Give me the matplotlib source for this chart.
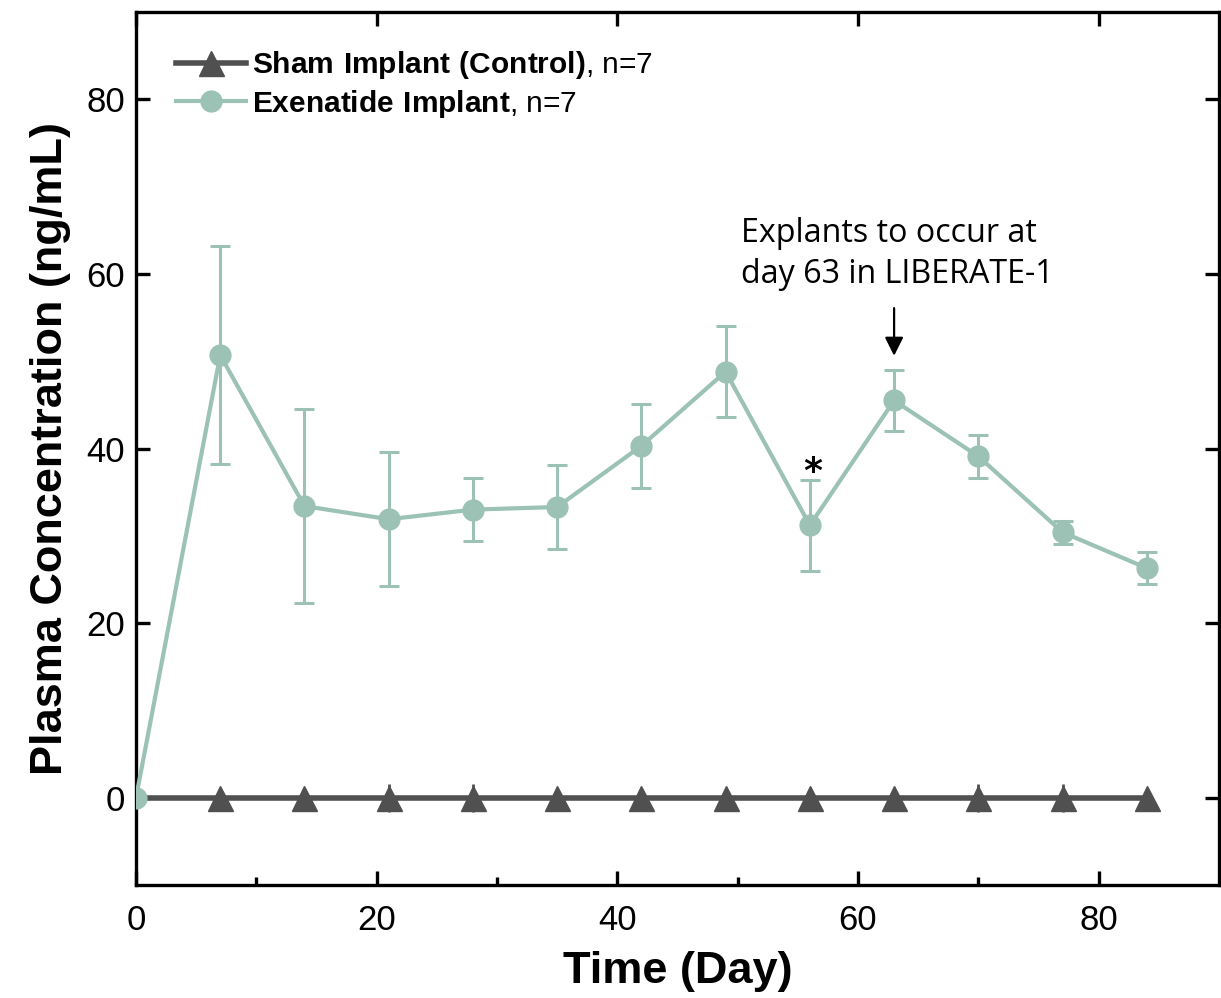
import matplotlib
matplotlib.use("Agg")
import matplotlib.pyplot as plt
import numpy as np

plt.rcParams['font.family'] = ['Liberation Sans', 'DejaVu Sans']
plt.rcParams['mathtext.fontset'] = 'custom'
plt.rcParams['mathtext.rm'] = 'Liberation Sans'
plt.rcParams['mathtext.bf'] = 'Liberation Sans:bold'

# Sampling days
days = [0, 7, 14, 21, 28, 35, 42, 49, 56, 63, 70, 77, 84]

# Exenatide implant group: mean and error (ng/mL)
exenatide_mean = [0.0, 50.7, 33.4, 31.9, 33.0, 33.3, 40.3, 48.8, 31.2, 45.5, 39.1, 30.4, 26.3]
exenatide_err = [0.0, 12.5, 11.1, 7.7, 3.6, 4.8, 4.8, 5.2, 5.2, 3.45, 2.5, 1.35, 1.8]

# Sham implant (control) group
sham_mean = [0.0, 0.0, 0.0, 0.0, 0.0, 0.0, 0.0, 0.0, 0.0, 0.0, 0.0, 0.0, 0.0]
sham_err = [0.0, 0.0, 0.0, 1.6, 1.6, 0.0, 0.0, 0.0, 0.0, 0.0, 1.6, 1.6, 0.0]

x_ticks = [0, 20, 40, 60, 80]
y_ticks = [0, 20, 40, 60, 80]

teal = '#9bc2b5'
dark = '#505050'

fig = plt.figure(figsize=(12.21, 9.98), dpi=100)
ax = fig.add_axes([136 / 1221, 113 / 998, (1219 - 136) / 1221, (986 - 113) / 998])

# Control group
ax.errorbar(days[1:], sham_mean[1:], yerr=sham_err[1:], color=dark, ecolor=dark,
            elinewidth=2, capsize=0, fmt='none', zorder=2)
ax.plot(days, sham_mean, color=dark, lw=4, zorder=3)
ax.plot(days[1:], sham_mean[1:], color=dark, lw=0, marker='^', markersize=18, zorder=3)

# Exenatide group
ax.errorbar(days, exenatide_mean, yerr=exenatide_err, color=teal, ecolor=teal,
            elinewidth=2.2, capsize=7, capthick=2.2, fmt='none', zorder=4)
ax.plot(days, exenatide_mean, color=teal, lw=3.0, marker='o', markersize=15,
        zorder=5)

# Legend handles
h_sham, = ax.plot([], [], color=dark, lw=4, marker='^', markersize=18)
h_exe, = ax.plot([], [], color=teal, lw=3.0, marker='o', markersize=15)
leg = ax.legend([h_sham, h_exe],
                [r'$\mathbf{Sham\ Implant\ (Control)}$, n=7',
                 r'$\mathbf{Exenatide\ Implant}$, n=7'],
                loc='upper left', frameon=False, fontsize=21.5,
                handlelength=2.35, handletextpad=0.2, labelspacing=0.22,
                borderaxespad=0.2, bbox_to_anchor=(0.02, 0.978))

# Significance mark and annotation
ax.text(56.2, 35.4, '*', ha='center', va='bottom', fontsize=26,
        fontweight='bold', family=['DejaVu Sans'])
ax.annotate('', xy=(63, 50.3), xytext=(63, 56.4),
            arrowprops=dict(arrowstyle='-|>', color='black', lw=1.6,
                            mutation_scale=28))
ax.text(50.3, 58.0, 'Explants to occur at\nday 63 in LIBERATE-1', ha='left',
        va='bottom', fontsize=23.2, family=['Open Sans', 'DejaVu Sans'],
        linespacing=1.35)

ax.set_xlim(0, 90)
ax.set_ylim(-10, 90)
ax.set_xticks(x_ticks)
ax.set_xticks([10, 30, 50, 70], minor=True)
ax.set_yticks(y_ticks)
ax.tick_params(axis='both', which='major', direction='in', length=10, width=2.4,
               labelsize=25, top=True, right=True, pad=8)
ax.tick_params(axis='x', which='major', pad=14)
ax.tick_params(axis='x', which='minor', direction='in', length=6, width=2.4,
               top=False)
for s in ax.spines.values():
    s.set_linewidth(2.4)

ax.set_xlabel('Time (Day)', fontsize=32.5, fontweight='bold', labelpad=10)
ax.set_ylabel('Plasma Concentration (ng/mL)', fontsize=32.5, fontweight='bold',
              labelpad=11)

fig.savefig('out.png', dpi=100)
